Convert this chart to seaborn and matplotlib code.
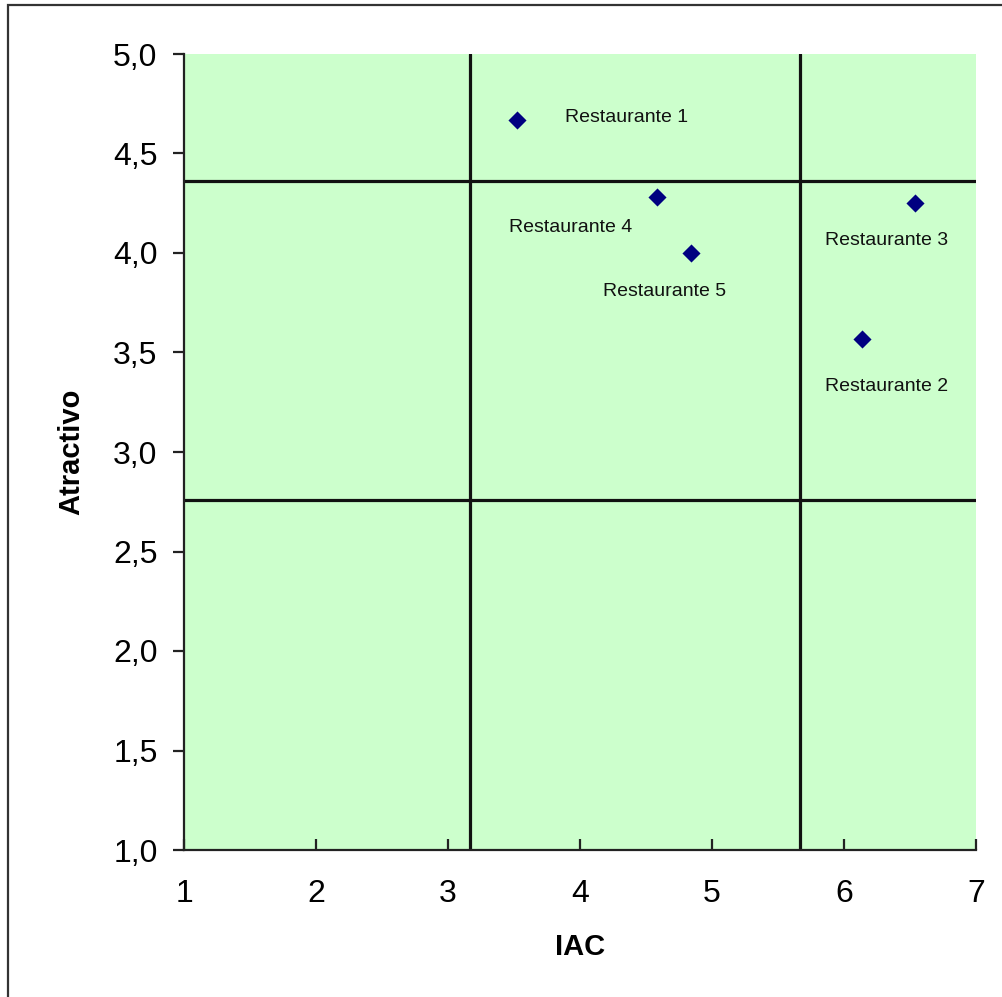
import matplotlib
matplotlib.use("Agg")
import matplotlib.pyplot as plt
import seaborn as sns
import pandas as pd
from matplotlib.patches import Rectangle
from matplotlib.ticker import FuncFormatter

# ---- data ----
restaurantes = ["Restaurante 1", "Restaurante 2", "Restaurante 3", "Restaurante 4", "Restaurante 5"]
iac = [3.52, 6.14, 6.54, 4.58, 4.84]
atractivo = [4.67, 3.57, 4.25, 4.28, 4.00]
umbral_iac = [3.17, 5.67]
umbral_atractivo = [4.36, 2.76]
x_ticks = [1, 2, 3, 4, 5, 6, 7]
y_ticks = [1.0, 1.5, 2.0, 2.5, 3.0, 3.5, 4.0, 4.5, 5.0]

# label offsets (points) and alignment
label_offsets = [(34.6, 1.4, "left"), (17, -34.6, "center"), (-20.5, -26.6, "center"),
                 (-62, -21.6, "center"), (-19, -27.4, "center")]

df = pd.DataFrame({"Restaurante": restaurantes, "IAC": iac, "Atractivo": atractivo})

sns.set_theme(style="white")
plt.rcParams["font.family"] = ["Liberation Sans", "DejaVu Sans"]
plt.rcParams["text.color"] = "black"
plt.rcParams["axes.labelcolor"] = "black"
plt.rcParams["xtick.color"] = "black"
plt.rcParams["ytick.color"] = "black"

fig = plt.figure(figsize=(10.02, 9.97), dpi=100)
ax = fig.add_axes([184/1002, 1-850/997, (976-184)/1002, (850-54)/997])
ax.set_facecolor("#CCFFCC")

for v in umbral_iac:
    ax.axvline(v, color="#111111", lw=2.3, zorder=2)
for h in umbral_atractivo:
    ax.axhline(h, color="#111111", lw=2.3, zorder=2)

sns.scatterplot(data=df, x="IAC", y="Atractivo", ax=ax, marker="D", s=85,
                color="#000080", linewidth=0, zorder=3, legend=False)

for name, x, y, (dx, dy, ha) in zip(restaurantes, iac, atractivo, label_offsets):
    ax.annotate(name, (x, y), xytext=(dx, dy), textcoords="offset points",
                ha=ha, va="center", fontsize=14, color="#111111", zorder=4)

ax.set_xlim(1, 7)
ax.set_ylim(1, 5)
ax.set_xticks(x_ticks)
ax.set_yticks(y_ticks)
ax.yaxis.set_major_formatter(FuncFormatter(lambda v, p: f"{v:.1f}".replace(".", ",")))
ax.xaxis.set_major_formatter(FuncFormatter(lambda v, p: f"{int(v)}"))

for s in ["top", "right"]:
    ax.spines[s].set_visible(False)
for s in ["left", "bottom"]:
    ax.spines[s].set_color("#222222")
    ax.spines[s].set_linewidth(1.6)

ax.tick_params(axis="y", direction="out", length=8, width=1.6, color="#222222",
               labelcolor="black", labelsize=23, pad=11, left=True)
ax.tick_params(axis="x", direction="in", length=8, width=1.6, color="#222222",
               labelcolor="black", labelsize=23, pad=21, bottom=True)

ax.set_xlabel("IAC", fontsize=21, fontweight="bold", labelpad=17, color="black")
ax.set_ylabel("Atractivo", fontsize=21, fontweight="bold", labelpad=20, color="black")

fig.add_artist(Rectangle((8/1002, -0.05), 1.2, 1.05 - 5/997, transform=fig.transFigure,
                         fill=False, edgecolor="#333333", lw=1.6))

fig.savefig("out.png", dpi=100, facecolor="white")
